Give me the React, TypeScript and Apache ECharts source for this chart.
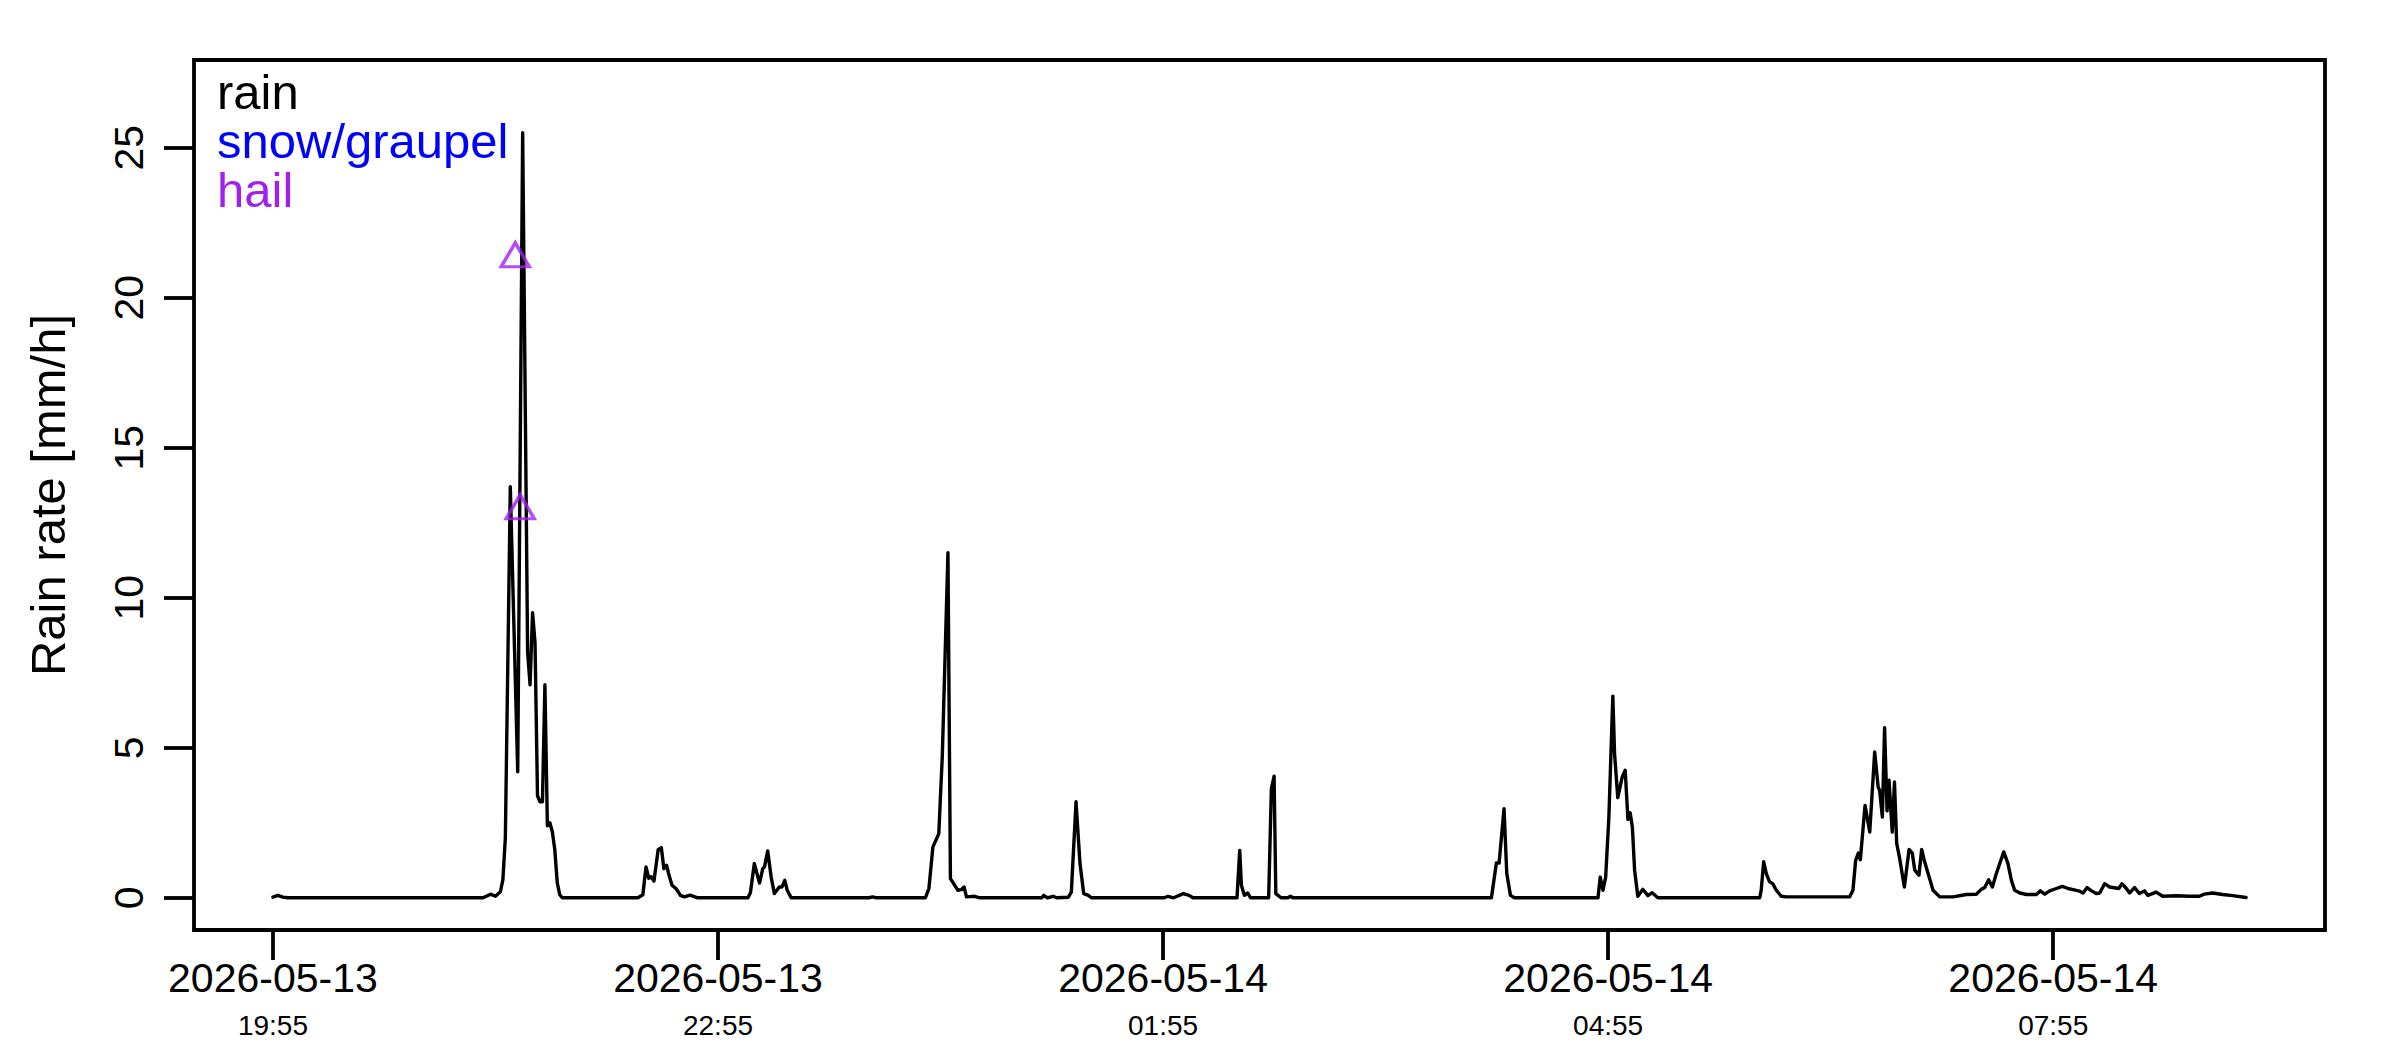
import React, { useEffect, useRef } from "react";
import * as echarts from "echarts";

// Minutes after 2026-05-13 19:55 and the rain rate read at each of them [mm/h]
const rainMinutes = [
  0, 2, 4, 6, 85, 88, 90, 92, 93, 94,
  96, 99, 101, 103, 104, 105, 106, 107, 108, 109,
  110, 111, 112, 113, 114, 115, 116, 117,
  147.6, 149.6, 150.9, 152.0, 153.0, 154.1, 155.8, 157.1, 158.1, 159.2,
  160.4, 161.4, 163.1, 164.8, 166.4, 168.7, 171.8,
  192.1, 193.1, 194.7, 196.8, 198.1, 198.8, 200.1, 201.5, 202.8, 204.8,
  205.9, 207.0, 208.0, 209.6,
  241, 242.6, 244,
  263.9, 265.3, 266.9, 269.3, 269.9, 270.7, 273.0, 274.0, 275.7, 277.0,
  278.4, 279.5, 280.5, 283.8, 285.9,
  311.0, 311.7, 313.2, 315.5, 317.0, 321.7, 322.9, 324.8, 326.4, 327.9,
  329.8, 331.0,
  360.5, 362.0, 364.3, 368.2, 370.5, 372.1,
  389.9, 391.0, 391.7, 392.9, 394.2, 395.4,
  402.7, 403.8, 404.9, 405.6, 407.7, 410.5, 411.5, 412.5,
  492.8, 494.8, 495.9, 497.9, 499.0, 500.5, 502.1,
  535.9, 536.8, 537.9, 539.0, 540.3, 541.9, 542.6, 543.9, 545.7, 546.9,
  548.0, 548.9, 549.8, 550.7, 552.0, 554.0, 556.1, 557.8, 560.1,
  601.3, 601.9, 602.9, 604.0, 605.3, 606.6, 608.0, 610.0, 612.0, 637.7,
  639.0, 640.1, 641.2, 642.0, 643.9, 645.8, 647.8, 649.2, 649.8, 650.9,
  651.8, 652.8, 653.6, 654.9, 655.8, 656.7, 657.8, 659.8, 661.7, 663.0,
  664.0, 665.7, 666.8, 668.0, 669.4, 671.4, 674.1,
  679.5, 684.9, 688.9, 690.9, 692.3, 693.9, 695.4, 697.0, 700.0, 701.7,
  703.1, 704.4, 706.5, 709.2, 713.2, 714.8, 716.6, 718.6, 721.3, 723.7,
  726.0, 728.0, 730.7, 732.1, 733.7, 735.5, 737.4, 738.8, 740.8, 742.8,
  746.6, 747.8, 749.6, 750.9, 752.9, 754.9, 756.9, 758.3, 761.6, 764.3,
  769.7, 775.1, 779.1, 781.1, 784.5, 788.5, 792.6, 798.0,
];

const rainRate = [
  0.02, 0.08, 0.02, 0, 0, 0.12, 0.05, 0.2, 0.6, 2.0,
  13.7, 4.2, 25.5, 8.2, 7.1, 9.5, 8.5, 3.4, 3.2, 3.2,
  7.1, 2.4, 2.5, 2.2, 1.6, 0.5, 0.1, 0,
  0, 0.1, 1.03, 0.65, 0.7, 0.56, 1.6, 1.67, 0.97, 1.08,
  0.69, 0.42, 0.3, 0.08, 0.03, 0.09, 0,
  0, 0.17, 1.14, 0.49, 0.97, 1.03, 1.56, 0.69, 0.14, 0.36,
  0.36, 0.58, 0.25, 0,
  0, 0.03, 0,
  0, 0.31, 1.69, 2.14, 3.25, 4.69, 11.5, 0.64, 0.42, 0.25,
  0.27, 0.36, 0.03, 0.05, 0,
  0, 0.08, 0, 0.05, 0, 0.02, 0.19, 3.2, 1.14, 0.14,
  0.08, 0,
  0, 0.05, 0, 0.14, 0.08, 0,
  0, 1.58, 0.41, 0.08, 0.16, 0,
  0, 3.64, 4.05, 0.14, 0, 0, 0.05, 0,
  0, 1.16, 1.16, 2.97, 0.81, 0.08, 0,
  0, 0.69, 0.25, 0.69, 2.7, 6.72, 4.8, 3.34, 4.03, 4.25,
  2.61, 2.83, 2.36, 0.92, 0.05, 0.28, 0.07, 0.17, 0,
  0, 0.25, 1.2, 0.8, 0.53, 0.47, 0.25, 0.05, 0.03, 0.03,
  0.25, 1.25, 1.49, 1.27, 3.08, 2.19, 4.86, 3.69, 3.58, 2.69,
  5.67, 2.9, 3.92, 2.19, 3.86, 1.81, 1.36, 0.36, 1.61, 1.49,
  0.92, 0.75, 1.61, 1.2, 0.81, 0.25, 0.03,
  0.03, 0.11, 0.12, 0.28, 0.34, 0.6, 0.36, 0.81, 1.53, 1.14,
  0.58, 0.25, 0.16, 0.11, 0.11, 0.23, 0.12, 0.23, 0.31, 0.38,
  0.31, 0.27, 0.22, 0.16, 0.34, 0.23, 0.14, 0.16, 0.47, 0.36,
  0.31, 0.47, 0.31, 0.16, 0.34, 0.14, 0.23, 0.08, 0.19, 0.05,
  0.07, 0.05, 0.05, 0.12, 0.16, 0.11, 0.07, 0.01,
];

// Hail observations (minutes after 19:55, rate)
const hailMinutes = [98, 100];
const hailRate = [21.3, 12.9];

// Snow/graupel observations: none in this period
const snowMinutes: number[] = [];
const snowRate: number[] = [];

// Axis ticks
const xTickMinutes = [0, 180, 360, 540, 720];
const xTickDates = ["2026-05-13", "2026-05-13", "2026-05-14", "2026-05-14", "2026-05-14"];
const xTickTimes = ["19:55", "22:55", "01:55", "04:55", "07:55"];
const yTicks = [0, 5, 10, 15, 20, 25];

const legendNames = ["rain", "snow/graupel", "hail"];
const legendColors = ["#000000", "#0000FF", "#A020F0"];

const FONT = "Liberation Sans, Arial, Helvetica, sans-serif";

export default function App() {
  const ref = useRef<HTMLDivElement>(null);

  useEffect(() => {
    if (!ref.current) return;
    const chart = echarts.init(ref.current, undefined, { renderer: "svg" });

    const dataMax = Math.max(...rainMinutes);
    const xPad = dataMax * 0.04;
    const yTop = 26.85;
    const yPad = yTop * 0.04;

    const option: any = {
      animation: false,
      backgroundColor: "#ffffff",
      textStyle: { fontFamily: FONT },
      grid: {
        left: 194,
        top: 60,
        width: 2131,
        height: 870,
        show: true,
        borderColor: "#000",
        borderWidth: 3.8,
        backgroundColor: "transparent",
        containLabel: false,
      },
      legend: {
        orient: "vertical",
        left: 211,
        top: 67,
        padding: 0,
        itemGap: 0,
        itemWidth: 0,
        itemHeight: 48,
        icon: "rect",
        selectedMode: false,
        itemStyle: { opacity: 0 },
        lineStyle: { opacity: 0 },
        textStyle: { fontSize: 49, fontFamily: FONT, lineHeight: 48 },
        data: legendNames.map((n, i) => ({ name: n, textStyle: { color: legendColors[i] } })),
      },
      xAxis: {
        type: "value",
        min: -xPad,
        max: dataMax + xPad,
        splitLine: { show: false },
        axisLine: { show: false, onZero: false },
        axisTick: {
          show: true,
          inside: false,
          length: 30,
          customValues: xTickMinutes,
          lineStyle: { color: "#000", width: 3.8 },
        },
        axisLabel: {
          customValues: xTickMinutes,
          margin: 24,
          color: "#000",
          fontFamily: FONT,
          formatter: (v: number) => {
            const i = xTickMinutes.indexOf(v);
            if (i < 0) return "";
            return `{d|${xTickDates[i]}}\n{t|${xTickTimes[i]}}`;
          },
          rich: {
            d: { fontSize: 41, lineHeight: 48, color: "#000", fontFamily: FONT },
            t: { fontSize: 28, lineHeight: 47, color: "#000", fontFamily: FONT },
          },
        },
      },
      yAxis: {
        type: "value",
        min: -yPad,
        max: yTop + yPad,
        name: "Rain rate [mm/h]",
        nameLocation: "middle",
        nameRotate: 90,
        nameGap: 122,
        nameTextStyle: { fontSize: 49, color: "#000", fontFamily: FONT },
        splitLine: { show: false },
        axisLine: { show: false, onZero: false },
        axisTick: {
          show: true,
          inside: false,
          length: 30,
          customValues: yTicks,
          lineStyle: { color: "#000", width: 3.8 },
        },
        axisLabel: {
          customValues: yTicks,
          rotate: 90,
          margin: 45,
          fontSize: 41,
          color: "#000",
          fontFamily: FONT,
        },
      },
      series: [
        {
          name: "rain",
          type: "line",
          data: rainMinutes.map((m, i) => [m, rainRate[i]]),
          symbol: "none",
          showSymbol: false,
          itemStyle: { color: "#000" },
          lineStyle: { color: "#000", width: 3.4, join: "round", cap: "round" },
          z: 2,
        },
        {
          name: "snow/graupel",
          type: "scatter",
          data: snowMinutes.map((m, i) => [m, snowRate[i]]),
          symbol: "triangle",
          itemStyle: { color: "#0000FF" },
        },
        {
          name: "hail",
          type: "scatter",
          data: hailMinutes.map((m, i) => [m, hailRate[i]]),
          symbol: "triangle",
          symbolSize: [28, 24],
          symbolOffset: [0, -4],
          itemStyle: { color: "transparent", borderColor: "#A020F0", borderWidth: 3.4 },
          z: 3,
        },
      ],
    };

    chart.setOption(option);
    return () => chart.dispose();
  }, []);

  return (
    <div
      ref={ref}
      style={{ position: "absolute", left: 0, top: 0, width: 2400, height: 1050, background: "#fff" }}
    />
  );
}
